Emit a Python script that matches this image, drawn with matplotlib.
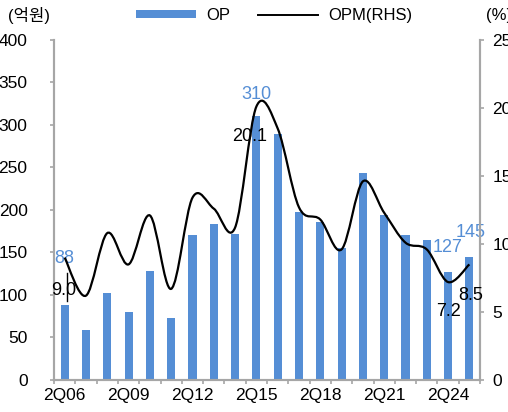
import numpy as np
import matplotlib
matplotlib.use("Agg")
import matplotlib.pyplot as plt
from matplotlib.path import Path
from matplotlib.patches import PathPatch
from matplotlib.lines import Line2D
from matplotlib.patches import Patch

plt.rcParams["font.family"] = ["Liberation Sans", "Noto Sans CJK KR", "DejaVu Sans"]

# ----------------------------------
# Data
# ----------------------------------

periods = [f"2Q{y:02d}" for y in range(6, 26)]

op = [88, 59, 102, 80, 128, 73, 170, 184, 172, 310,
      289, 198, 186, 155, 244, 194, 170, 165, 127, 145]

opm = [9.0, 6.2, 10.8, 8.5, 12.1, 6.7, 13.4, 12.6, 11.2, 20.1,
       18.5, 12.7, 11.8, 9.6, 14.6, 12.3, 10.1, 9.6, 7.2, 8.5]

op_labels = {0: "88", 9: "310", 18: "127", 19: "145"}
opm_labels = {0: "9.0", 9: "20.1", 18: "7.2", 19: "8.5"}

BLUE = "#558ED5"
GRAY = "#A6A6A6"
FS = 12
TFS = 12.5
LFS = 13


def smooth_path(xs, ys, t=0.5):
    # excel style smoothed line: bezier segments through each point
    xs = np.asarray(xs, float)
    ys = np.asarray(ys, float)
    verts = [(xs[0], ys[0])]
    codes = [Path.MOVETO]
    n = len(xs)
    for i in range(n - 1):
        p0 = i - 1 if i > 0 else i
        p3 = i + 2 if i + 2 < n else i + 1
        c1 = (xs[i] + (xs[i + 1] - xs[p0]) * t / 3,
              ys[i] + (ys[i + 1] - ys[p0]) * t / 3)
        c2 = (xs[i + 1] - (xs[p3] - xs[i]) * t / 3,
              ys[i + 1] - (ys[p3] - ys[i]) * t / 3)
        verts += [c1, c2, (xs[i + 1], ys[i + 1])]
        codes += [Path.CURVE4] * 3
    return Path(verts, codes)


fig = plt.figure(figsize=(5.08, 4.12), dpi=100)
ax = fig.add_axes([0.1063, 0.0777, 0.8386, 0.8253])
ax2 = ax.twinx()

x = np.arange(len(periods))

ax.bar(x, op, width=0.38, color=BLUE, zorder=2)

ax.set_xlim(-0.5, len(periods) - 0.5)
ax.set_ylim(0, 400)
ax.set_yticks(range(0, 401, 50))
ax2.set_ylim(0, 25)
ax2.set_yticks(range(0, 26, 5))

# boundary ticks, labels every 3rd period
ax.set_xticks(np.arange(-0.5, len(periods), 1))
ax.set_xticklabels([])
ax.set_xticks(x[::3], minor=True)
ax.set_xticklabels(periods[::3], minor=True, fontsize=TFS)
ax.tick_params(axis="x", which="minor", length=0, pad=6)
ax.tick_params(axis="x", which="major", length=3, color=GRAY, width=1.2)

ax.tick_params(axis="y", length=3, color=GRAY, width=1.2, labelsize=TFS, pad=16)
ax2.tick_params(axis="y", length=3, color=GRAY, width=1.2, labelsize=TFS, pad=6)

for a in (ax, ax2):
    for s in ("left", "right", "bottom"):
        a.spines[s].set_color(GRAY)
        a.spines[s].set_linewidth(1.5)
    a.spines["top"].set_visible(False)

# OPM line (RHS)
ax2.add_patch(PathPatch(smooth_path(x, opm), facecolor="none",
                        edgecolor="black", lw=1.6, zorder=3))

# data labels
ax.text(0, 143, op_labels[0], color=BLUE, fontsize=LFS, ha="center", va="center")
ax.text(9, 336, op_labels[9], color=BLUE, fontsize=LFS, ha="center", va="center")
ax.text(18, 156, op_labels[18], color=BLUE, fontsize=LFS, ha="center", va="center")
ax.text(19.05, 174, op_labels[19], color=BLUE, fontsize=LFS, ha="center", va="center")

ax2.text(-0.05, 6.6, opm_labels[0], fontsize=LFS, ha="center", va="center")
ax2.text(8.7, 17.9, opm_labels[9], fontsize=LFS, ha="center", va="center")
ax2.text(18, 5.0, opm_labels[18], fontsize=LFS, ha="center", va="center")
ax2.text(19.05, 6.2, opm_labels[19], fontsize=LFS, ha="center", va="center")
ax2.plot([0.1, 0.1], [5.8, 7.9], color="black", lw=1.0, zorder=4)

# axis units
fig.text(0.016, 0.962, "(억원)", fontsize=FS, va="center")
fig.text(0.957, 0.962, "(%)", fontsize=FS, va="center")

# legend
handles = [Patch(facecolor=BLUE), Line2D([], [], color="black", lw=1.4)]
fig.legend(handles, ["OP", "OPM(RHS)"], loc="center", bbox_to_anchor=(0.54, 0.962),
           ncol=2, frameon=False, fontsize=FS, handlelength=3.6, handleheight=0.35,
           columnspacing=1.7, handletextpad=0.6)

fig.savefig("out.png", dpi=100)
